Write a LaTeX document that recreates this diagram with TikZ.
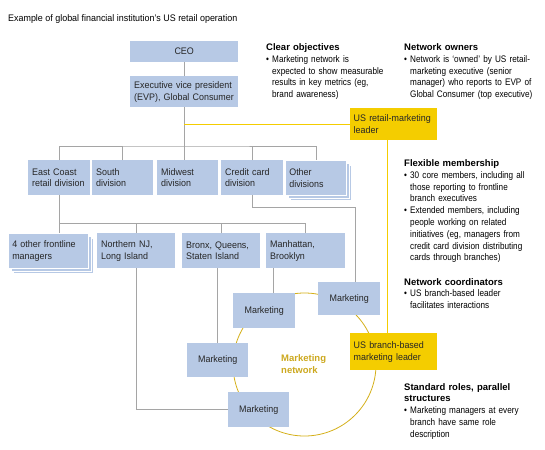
\documentclass[tikz,border=0pt]{standalone}
\usepackage{fontspec}
\setmainfont{Liberation Sans}[FakeStretch=0.86, BoldFeatures={FakeStretch=1.0}]
\newfontfamily\boxfont{Liberation Sans}[FakeStretch=0.94]
\usetikzlibrary{shadows}
\definecolor{boxblue}{RGB}{183,201,229}
\definecolor{leadyellow}{RGB}{244,205,0}
\definecolor{netgold}{RGB}{204,168,30}
\definecolor{linegray}{RGB}{165,165,165}
\begin{document}
\begin{tikzpicture}[x=1pt, y=-1pt, font=\fontsize{9.5}{11.8}\selectfont,
  box/.style={fill=boxblue, anchor=north west, inner xsep=4, inner ysep=0, align=left, text=black!85, font=\fontsize{9.5}{11.8}\boxfont},
  stackbox/.style={box, draw=white, line width=0.6, double copy shadow={shadow xshift=2.5pt, shadow yshift=-2.5pt, fill=boxblue, draw=white}},
  leadbox/.style={box, fill=leadyellow, inner xsep=3.5},
  mktbox/.style={box, align=center, inner xsep=0},
  note/.style={anchor=north west, inner sep=0, align=left, text width=140},
  conn/.style={draw=linegray, line width=0.6},
  ylink/.style={draw=leadyellow, line width=1.1}]
\useasboundingbox (0,0) rectangle (545,449);

\node[anchor=north west, inner sep=0, font=\fontsize{9.5}{11.8}\boxfont] (title) at (8,14) {Example of global financial institution’s US retail operation};

\draw[draw=netgold!80!leadyellow, line width=0.8] (304.5,364.5) circle (71.5);

\node[mktbox, minimum width=108, minimum height=21] (ceo) at (130,41) {CEO};
\node[box, minimum width=108, minimum height=31, text width=100] (evp) at (130,76) {Executive vice president\\(EVP), Global Consumer};
\node[leadbox, minimum width=87, minimum height=32, text width=80] (rlead) at (350,108) {US retail-marketing\\leader};

\node[box, minimum width=62, minimum height=35, text width=54] (east) at (28,160) {East Coast\\retail division};
\node[box, minimum width=61, minimum height=35, text width=53] (south) at (92,160) {South\\division};
\node[box, minimum width=61, minimum height=35, text width=53] (midwest) at (157,160) {Midwest\\division};
\node[box, minimum width=62, minimum height=35, text width=54] (credit) at (221,160) {Credit card\\division};
\node[stackbox, minimum width=61, minimum height=35, text width=53] (otherdiv) at (285,160) {Other\\divisions};

\node[stackbox, minimum width=80, minimum height=35, text width=72] (other4) at (8,233) {4 other frontline\\managers};
\node[box, minimum width=78, minimum height=35, text width=70] (north) at (97,233) {Northern NJ,\\Long Island};
\node[box, minimum width=78, minimum height=35, text width=70] (bronx) at (182,233) {Bronx, Queens,\\Staten Island};
\node[box, minimum width=79, minimum height=35, text width=71] (manh) at (266,233) {Manhattan,\\Brooklyn};

\node[mktbox, minimum width=62, minimum height=33] (m1) at (318,282) {Marketing};
\node[mktbox, minimum width=62, minimum height=35] (m2) at (233,293) {Marketing};
\node[mktbox, minimum width=61, minimum height=34] (m3) at (187,343) {Marketing};
\node[mktbox, minimum width=61, minimum height=35] (m4) at (228,392) {Marketing};
\node[leadbox, minimum width=87, minimum height=37, text width=80] (blead) at (350,333) {US branch-based\\marketing leader};

\node[anchor=west, inner sep=0, align=left, text=netgold, font=\fontsize{9.5}{11.8}\selectfont\bfseries] (netlabel) at (281,364) {Marketing\\network};

\draw[conn] (ceo) -- (evp);
\draw[conn] (evp.south) -- (evp.south |- midwest.north);
\draw[conn] (east.north) |- (evp.south |- 0,146) -| (otherdiv.north);
\draw[conn] (south.north) -- (south.north |- 0,146);
\draw[conn] (credit.north) -- (credit.north |- 0,146);
\draw[conn] (east.south) -- (east.south |- other4.north);
\draw[conn] (east.south |- 0,223) -| (manh.north);
\draw[conn] (north.north) -- (north.north |- 0,223);
\draw[conn] (bronx.north) -- (bronx.north |- 0,223);
\draw[conn] (credit.south) -- ++(0,12) -| ([xshift=6]m1.north);
\draw[conn] ([xshift=9]m2.north) -- ([xshift=9]m2.north |- manh.south);
\draw[conn] (m3.north) -- (m3.north |- bronx.south);
\draw[conn] (north.south) |- (m4.west);

\draw[ylink] (evp.south |- rlead.west) -- (rlead.west);
\draw[ylink] ([xshift=-6.5]rlead.south) -- ([xshift=-6.5]blead.north);

\node[note] (objectives) at (266,43.5) {\textbf{Clear objectives}\\
\makebox[6pt][l]{•}Marketing network is\\
\hspace*{6pt}expected to show measurable\\
\hspace*{6pt}results in key metrics (eg,\\
\hspace*{6pt}brand awareness)};
\node[note] (owners) at (404,43.5) {\textbf{Network owners}\\
\makebox[6pt][l]{•}Network is ‘owned’ by US retail-\\
\hspace*{6pt}marketing executive (senior\\
\hspace*{6pt}manager) who reports to EVP of\\
\hspace*{6pt}Global Consumer (top executive)};
\node[note] (membership) at (404,159.5) {\textbf{Flexible membership}\\
\makebox[6pt][l]{•}30 core members, including all\\
\hspace*{6pt}those reporting to frontline\\
\hspace*{6pt}branch executives\\
\makebox[6pt][l]{•}Extended members, including\\
\hspace*{6pt}people working on related\\
\hspace*{6pt}initiatives (eg, managers from\\
\hspace*{6pt}credit card division distributing\\
\hspace*{6pt}cards through branches)};
\node[note] (coordinators) at (404,278) {\textbf{Network coordinators}\\
\makebox[6pt][l]{•}US branch-based leader\\
\hspace*{6pt}facilitates interactions};
\node[note] (roles) at (404,383) {\textbf{Standard roles, parallel}\\
\hspace*{0pt}\textbf{structures}\\
\makebox[6pt][l]{•}Marketing managers at every\\
\hspace*{6pt}branch have same role\\
\hspace*{6pt}description};
\end{tikzpicture}
\end{document}
